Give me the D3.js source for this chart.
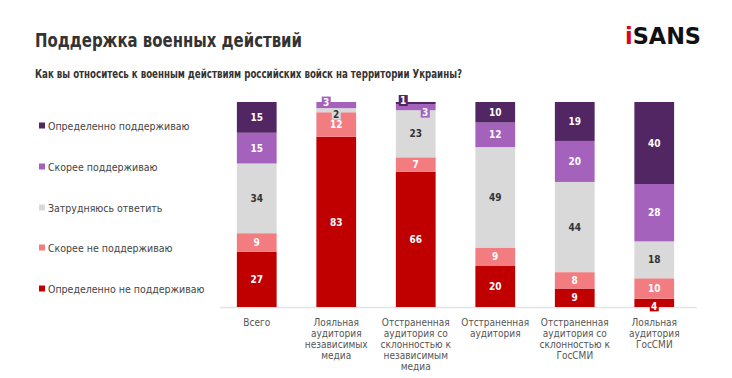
<!DOCTYPE html>
<html><head><meta charset="utf-8">
<script src="https://cdn.jsdelivr.net/npm/d3@7"></script>
<style>
body{margin:0;background:#fff;}
svg text{font-family:"DejaVu Sans",sans-serif;font-stretch:condensed;}
</style></head>
<body><svg id="c" width="732" height="378"></svg>
<script>
const categories = ["Всего","Лояльная\nаудитория\nнезависимых\nмедиа","Отстраненная\nаудитория со\nсклонностью к\nнезависимым\nмедиа","Отстраненная\nаудитория","Отстраненная\nаудитория со\nсклонностью к\nГосСМИ","Лояльная\nаудитория\nГосСМИ"];
const seriesNames = ["Определенно не поддерживаю","Скорее не поддерживаю","Затрудняюсь ответить","Скорее поддерживаю","Определенно поддерживаю"];
const defNot   = [27, 83, 66, 20, 9, 4];
const ratherNot= [9, 12, 7, 9, 8, 10];
const unsure   = [34, 2, 23, 49, 44, 18];
const rather   = [15, 3, 3, 12, 20, 28];
const defYes   = [15, 0, 1, 10, 19, 40];
const colors = ["#c00000","#f27c80","#d9d9d9","#a462bd","#522563"];
const textColors = ["#fff","#fff","#333","#fff","#fff"];
// offsets for small callout labels [series, category, dx, dy]
const callouts = [[3,1,-10,-3],[2,1,0,4],[4,2,-12.5,-2.5],[3,2,9.5,5],[0,5,0,3]];

const svg = d3.select("#c");
const series = [defNot, ratherNot, unsure, rather, defYes];
const rows = categories.map((c,i)=>{const o={cat:c}; seriesNames.forEach((s,k)=>o[s]=series[k][i]); return o;});
const stacked = d3.stack().keys(seriesNames)(rows);

const x = d3.scaleBand().domain(categories).range([217,694]).paddingInner(0.5).paddingOuter(0.25);
const y = d3.scaleLinear().domain([0,100]).range([307,102]);

// title
svg.append("text").attr("x",35).attr("y",47).text("Поддержка военных действий")
  .attr("font-size",20).attr("font-weight","bold").attr("fill","#333")
  .attr("textLength",267).attr("lengthAdjust","spacingAndGlyphs");
svg.append("text").attr("x",35).attr("y",78).text("Как вы относитесь к военным действиям российских войск на территории Украины?")
  .attr("font-size",11.5).attr("font-weight","bold").attr("fill","#333")
  .attr("textLength",427).attr("lengthAdjust","spacingAndGlyphs");
// logo
const logo = svg.append("text").attr("x",625).attr("y",44).attr("font-size",23).attr("font-weight","bold")
  .attr("textLength",76).attr("lengthAdjust","spacingAndGlyphs");
logo.append("tspan").attr("fill","#e3001b").text("i");
logo.append("tspan").attr("fill","#111").text("SANS");

// baseline
svg.append("line").attr("x1",220).attr("x2",697).attr("y1",307.5).attr("y2",307.5).attr("stroke","#e3e3e3").attr("stroke-width",1.5);

// bars
const g = svg.append("g");
stacked.forEach((s,k)=>{
  g.selectAll(null).data(s).join("rect")
    .attr("x",d=>x(d.data.cat)).attr("width",x.bandwidth())
    .attr("y",d=>y(d[1])).attr("height",d=>y(d[0])-y(d[1]))
    .attr("fill",colors[k]);
});
// labels
const isCallout=(k,i)=>callouts.find(c=>c[0]===k&&c[1]===i);
stacked.forEach((s,k)=>{
  s.forEach((d,i)=>{
    const v=d[1]-d[0]; if(v<=0) return;
    let cx=x(d.data.cat)+x.bandwidth()/2, cy=(y(d[0])+y(d[1]))/2;
    const co=isCallout(k,i);
    if(co){ cx+=co[2]; cy+=co[3];
      svg.append("rect").attr("x",cx-4.5).attr("y",cy-5.5).attr("width",9).attr("height",11).attr("fill",colors[k]);
    }
    svg.append("text").attr("x",cx).attr("y",cy).attr("dy","0.36em").attr("text-anchor","middle")
      .attr("font-size",10).attr("font-weight","bold").attr("fill",textColors[k]).text(v);
  });
});

// x axis labels
categories.forEach(c=>{
  const t=svg.append("text").attr("x",x(c)+x.bandwidth()/2).attr("y",325.5).attr("text-anchor","middle")
    .attr("font-size",10).attr("fill","#555");
  c.split("\n").forEach((l,j)=>t.append("tspan").attr("x",x(c)+x.bandwidth()/2).attr("dy",j?11:0).text(l));
});

// legend
const legY=[289,248,208,167,126];
seriesNames.forEach((s,k)=>{
  svg.append("rect").attr("x",39).attr("y",legY[k]-3.5).attr("width",6).attr("height",6).attr("fill",colors[k]);
  svg.append("text").attr("x",48).attr("y",legY[k]).attr("dy","0.35em").attr("font-size",10.5).attr("fill","#444").text(s);
});
</script></body></html>
